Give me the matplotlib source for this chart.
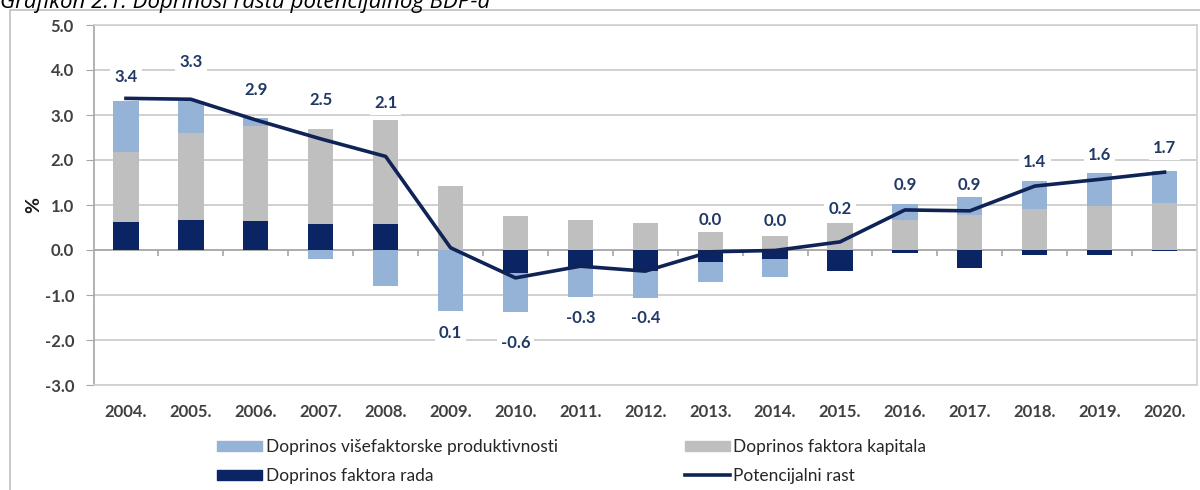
import matplotlib
matplotlib.use("Agg")
import matplotlib.pyplot as plt
import numpy as np
from matplotlib.patches import Patch
from matplotlib.lines import Line2D

plt.rcParams['font.family'] = ['Lato', 'DejaVu Sans']

years = ["2004.", "2005.", "2006.", "2007.", "2008.", "2009.", "2010.", "2011.", "2012.",
         "2013.", "2014.", "2015.", "2016.", "2017.", "2018.", "2019.", "2020."]
labor = [0.62, 0.67, 0.64, 0.57, 0.57, 0.00, -0.50, -0.37, -0.46, -0.27, -0.21, -0.47,
         -0.07, -0.41, -0.11, -0.11, -0.03]
capital = [1.56, 1.94, 2.12, 2.12, 2.31, 1.42, 0.76, 0.67, 0.61, 0.39, 0.32, 0.61,
           0.67, 0.78, 0.91, 0.98, 1.05]
tfp = [1.14, 0.69, 0.17, -0.19, -0.79, -1.36, -0.88, -0.67, -0.61, -0.43, -0.38, 0.00,
       0.35, 0.40, 0.62, 0.72, 0.71]
potential = [3.37, 3.35, 2.89, 2.47, 2.08, 0.05, -0.62, -0.36, -0.47, -0.04, -0.01, 0.18,
             0.89, 0.87, 1.42, 1.57, 1.73]
value_labels = ["3.4", "3.3", "2.9", "2.5", "2.1", "0.1", "-0.6", "-0.3", "-0.4", "0.0",
                "0.0", "0.2", "0.9", "0.9", "1.4", "1.6", "1.7"]

# layout: vertical placement of the value labels (data units)
label_pos = [3.85, 4.18, 3.56, 3.33, 3.27, -1.84, -2.07, -1.51, -1.51, 0.67, 0.64, 0.90,
             1.44, 1.44, 1.96, 2.11, 2.27]

series_names = ["Doprinos višefaktorske produktivnosti", "Doprinos faktora kapitala",
                "Doprinos faktora rada", "Potencijalni rast"]

c_tfp = "#95b3d7"
c_cap = "#bfbfbf"
c_lab = "#0b2463"
c_line = "#0f2356"
txt = "#404040"

fig = plt.figure(figsize=(12, 4.9), dpi=100)
ax = fig.add_axes([93.5 / 1200, 105 / 490, 1103.5 / 1200, 360 / 490])

x = np.arange(len(years))
w = 0.39
pos_base = np.zeros(len(years))
neg_base = np.zeros(len(years))
for vals, col in [(labor, c_lab), (capital, c_cap), (tfp, c_tfp)]:
    v = np.array(vals)
    base = np.where(v >= 0, pos_base, neg_base)
    ax.bar(x, v, w, bottom=base, color=col, zorder=3, linewidth=0)
    pos_base = pos_base + np.where(v >= 0, v, 0)
    neg_base = neg_base + np.where(v < 0, v, 0)

ax.plot(x, potential, color=c_line, lw=2.6, zorder=5)

for xi, yi, s in zip(x, label_pos, value_labels):
    ax.text(xi, yi, s, ha='center', va='center', fontsize=12, fontweight='bold',
            color="#1f3864", zorder=6,
            bbox=dict(boxstyle='square,pad=0.25', fc='white', ec='none'))

ax.set_xlim(-0.5, len(years) - 0.5)
ax.set_ylim(-3, 5)
ax.set_yticks(np.arange(-3, 5.01, 1.0))
ax.set_yticklabels([f"{v:.1f}" for v in np.arange(-3, 5.01, 1.0)], fontsize=12,
                   fontweight='bold', color=txt)
ax.set_xticks(x)
ax.set_xticklabels(years, fontsize=12, fontweight='bold', color=txt)
ax.tick_params(axis='x', length=0, pad=14)
ax.tick_params(axis='y', length=6, color='#a6a6a6', pad=8)
ax.grid(axis='y', color='#c8c8c8', lw=1.2, zorder=0)
ax.axhline(0, color='#a6a6a6', lw=1.2, zorder=2)
ax.vlines(x[:-1] + 0.5, -0.13, 0, color='#a6a6a6', lw=1.2, zorder=2)
for sp in ['top', 'bottom', 'right']:
    ax.spines[sp].set_color('#d0d0d0')
    ax.spines[sp].set_linewidth(1.2)
ax.spines['left'].set_color('#a6a6a6')
ax.spines['left'].set_linewidth(1.2)
ax.set_ylabel('%', fontsize=14, fontweight='bold', color='#1a1a1a', labelpad=2)

handles = [Patch(color=c_tfp), Patch(color=c_lab), Patch(color=c_cap),
           Line2D([0], [0], color=c_line, lw=2.6)]
labels = [series_names[0], series_names[2], series_names[1], series_names[3]]
fig.legend(handles, labels, ncol=2, loc='upper left', bbox_to_anchor=(0.168, 0.135),
           frameon=False, fontsize=12.5, handlelength=2.6, handleheight=0.5,
           handletextpad=0.2, columnspacing=7.3, labelspacing=0.72,
           labelcolor='#262626')

# outer chart frame
fig.add_artist(plt.Rectangle((10 / 1200, -0.1), 1.2, 1 - 10 / 490 + 0.1,
                             transform=fig.transFigure, fill=False, ec='#bfbfbf', lw=1.2))

fig.text(0.0, 1 - 8 / 490, "Grafikon 2.1. Doprinosi rastu potencijalnog BDP-a",
         fontsize=16, style='italic', ha='left', va='baseline', color='black',
         family=['Open Sans', 'DejaVu Sans'])

fig.savefig("out.png", dpi=100)
